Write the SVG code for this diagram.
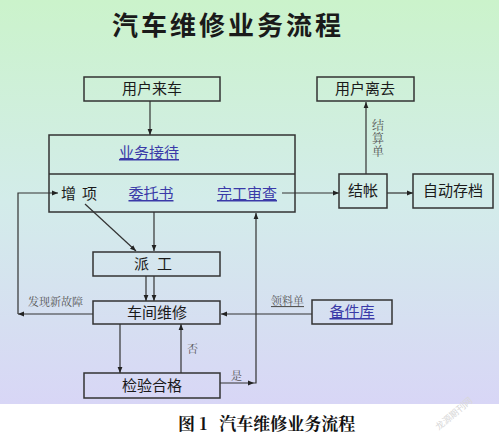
<svg xmlns="http://www.w3.org/2000/svg" width="499" height="436" viewBox="0 0 499 436">
<defs>
<linearGradient id="bg" x1="0" y1="0" x2="0" y2="1">
<stop offset="0" stop-color="#cbf3cb"/>
<stop offset="0.5" stop-color="#d3ecea"/>
<stop offset="1" stop-color="#d8d6f6"/>
</linearGradient>
<marker id="ah" viewBox="0 0 10 10" refX="10" refY="5" markerWidth="6" markerHeight="6" orient="auto" markerUnits="userSpaceOnUse">
<path d="M0,1 L10,5 L0,9 z" fill="#222"/>
</marker>
</defs>
<style>
.box{fill:none;stroke:#333;stroke-width:1.5}
.t{font-family:"Noto Sans CJK SC","Noto Sans",sans-serif;font-size:15px;fill:#1a1a1a;text-anchor:middle}
.b{font-family:"Noto Sans CJK SC","Noto Sans",sans-serif;font-size:15px;fill:#3a3aa8;text-anchor:middle;text-decoration:underline}
.s{font-family:"Noto Serif CJK SC","Noto Sans CJK SC",serif;font-size:11px;fill:#555}
.c{fill:none;stroke:#333;stroke-width:1.2}
</style>
<rect x="0" y="0" width="499" height="404" fill="url(#bg)"/>
<rect x="0" y="404" width="499" height="32" fill="#fff"/>
<text x="228" y="35" font-family="'Noto Sans CJK SC',sans-serif" font-size="26" font-weight="bold" fill="#1a1a1a" text-anchor="middle" letter-spacing="3">汽车维修业务流程</text>

<g id="connectors">
<line class="c" x1="150" y1="101" x2="150" y2="135" marker-end="url(#ah)"/>
<line class="c" x1="154" y1="212" x2="154" y2="251" marker-end="url(#ah)"/>
<line class="c" x1="85" y1="204" x2="136" y2="251" marker-end="url(#ah)"/>
<line class="c" x1="146" y1="276" x2="146" y2="301" marker-end="url(#ah)"/>
<line class="c" x1="154" y1="276" x2="154" y2="301" marker-end="url(#ah)"/>
<line class="c" x1="93" y1="314" x2="18" y2="314" marker-end="url(#ah)"/>
<polyline class="c" points="18,314 18,193 58,193" marker-end="url(#ah)"/>
<line class="c" x1="120" y1="324" x2="120" y2="373" marker-end="url(#ah)"/>
<line class="c" x1="181" y1="373" x2="181" y2="324" marker-end="url(#ah)"/>
<line class="c" x1="220" y1="383" x2="254" y2="383" marker-end="url(#ah)"/>
<polyline class="c" points="254,383 256,383 256,213" marker-end="url(#ah)"/>
<line class="c" x1="312" y1="314" x2="221" y2="314" marker-end="url(#ah)"/>
<line class="c" x1="282" y1="193" x2="339" y2="193" marker-end="url(#ah)"/>
<line class="c" x1="387" y1="193" x2="413" y2="193" marker-end="url(#ah)"/>
<line class="c" x1="366" y1="174" x2="366" y2="102" marker-end="url(#ah)"/>
<text class="s" x="28" y="306">发现新故障</text>
<text class="s" x="187" y="353">否</text>
<text class="s" x="231" y="380">是</text>
<text class="s" x="271" y="305" fill="#6a74a8" text-decoration="underline">领料单</text>
<text class="s" x="378" y="119" fill="#6a7cc0" style="writing-mode:vertical-rl;font-size:12px" letter-spacing="1">结算单</text>
</g>

<g id="n-arrive"><rect class="box" x="84" y="77" width="136" height="24"/><text class="t" x="152" y="94">用户来车</text></g>
<g id="n-leave"><rect class="box" x="317" y="77" width="97" height="24"/><text class="t" x="365" y="94">用户离去</text></g>
<g id="n-reception">
<rect class="box" x="49" y="135" width="246" height="77"/>
<line class="box" x1="49" y1="174" x2="295" y2="174"/>
<text class="b" x="149" y="158">业务接待</text>
<text class="t" x="82" y="199" letter-spacing="6">增项</text>
<text class="b" x="151" y="199">委托书</text>
<text class="b" x="247" y="199">完工审查</text>
</g>
<g id="n-dispatch"><rect class="box" x="93" y="252" width="127" height="24"/><text class="t" x="157" y="269" letter-spacing="8">派工</text></g>
<g id="n-workshop"><rect class="box" x="93" y="301" width="127" height="23"/><text class="t" x="157" y="318">车间维修</text></g>
<g id="n-inspect"><rect class="box" x="84" y="373" width="136" height="25"/><text class="t" x="152" y="391">检验合格</text></g>
<g id="n-parts"><rect class="box" x="312" y="300" width="80" height="24"/><text class="b" x="352" y="317">备件库</text></g>
<g id="n-checkout"><rect class="box" x="339" y="174" width="48" height="34"/><text class="t" x="363" y="196">结帐</text></g>
<g id="n-archive"><rect class="box" x="413" y="174" width="80" height="34"/><text class="t" x="453" y="196">自动存档</text></g>

<text x="178" y="430" font-family="'Noto Serif CJK SC','Noto Sans CJK SC',serif" font-size="17" font-weight="bold" fill="#111">图 1<tspan dx="12">汽车维修业务流程</tspan></text>
<text x="456" y="416" font-family="'Noto Sans CJK SC',sans-serif" font-size="9" fill="#d8d8d8" text-anchor="middle" transform="rotate(-40 456 416)">龙源期刊网</text>
</svg>
